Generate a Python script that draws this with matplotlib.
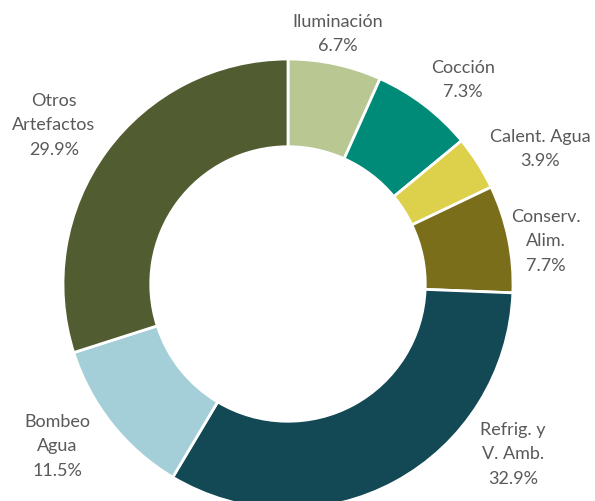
import matplotlib
matplotlib.use("Agg")
import matplotlib.pyplot as plt

categories = ["Iluminación", "Cocción", "Calent. Agua", "Conserv.\nAlim.",
              "Refrig. y\nV. Amb.", "Bombeo\nAgua", "Otros\nArtefactos"]
shares = [6.7, 7.3, 3.9, 7.7, 32.9, 11.5, 29.9]
colors = ["#b9c893", "#008a78", "#ddd04a", "#7a6e1b", "#134855", "#a5cfd8", "#515d31"]

# label anchor points in pixel coords (top of text block)
label_pos = [(338, 14), (463, 60), (540, 129), (546, 209), (513, 422), (57, 414), (54, 93)]

W, H = 595, 502
cx, cy, R = 288, 285, 225

fig = plt.figure(figsize=(W / 100, H / 100), dpi=100)
ax = fig.add_axes([0, 0, 1, 1])

# pie drawn in a flipped y-axis, so go counterclockwise in data to look clockwise
ax.pie(shares, colors=colors, startangle=-90, counterclock=True,
       center=(cx, cy), radius=R, frame=True,
       wedgeprops=dict(width=R * 0.39, edgecolor="white", linewidth=2))
ax.set_xlim(0, W)
ax.set_ylim(H, 0)
ax.set_aspect("equal")
ax.axis("off")

for name, val, (x, y) in zip(categories, shares, label_pos):
    ax.text(x, y, f"{name}\n{val:.1f}%", ha="center", va="top", fontsize=13,
            color="#595959", family="Lato", linespacing=1.65)

fig.savefig("out.png", dpi=100)
